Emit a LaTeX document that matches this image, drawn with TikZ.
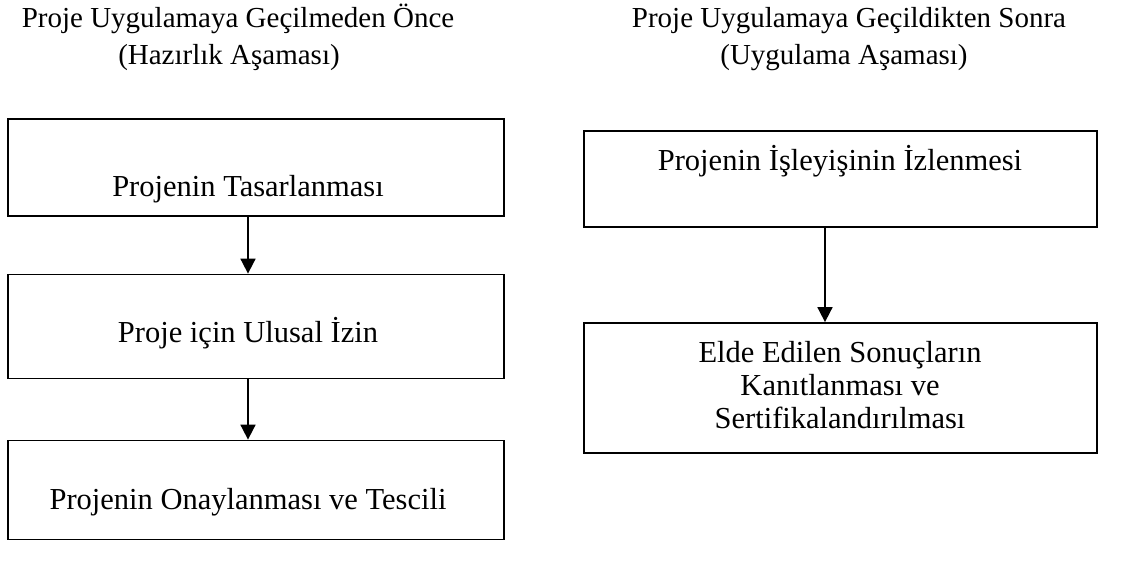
\documentclass[tikz,border=0pt]{standalone}
\usepackage{fontspec}
\setmainfont{Liberation Serif}
\usetikzlibrary{arrows.meta}
\begin{document}
\begin{tikzpicture}[x=0.4pt,y=-0.4pt,
  box/.style={draw, line width=0.7pt, inner sep=0pt},
  txt/.style={font=\fontsize{12.2pt}{13.6pt}\selectfont, inner sep=0pt, anchor=base, align=center},
  ttl/.style={font=\fontsize{11.6pt}{13.6pt}\selectfont, inner sep=0pt, anchor=base, align=center},
  arr/.style={line width=0.7pt, -{Triangle[length=6pt,width=6pt]}}]
\useasboundingbox (0,0) rectangle (1129,564);
% titles
\node[ttl] (tl1) at (238,28) {Proje Uygulamaya Geçilmeden Önce};
\node[ttl] (tl2) at (229,65) {(Hazırlık Aşaması)};
\node[ttl] (tr1) at (849,28) {Proje Uygulamaya Geçildikten Sonra};
\node[ttl] (tr2) at (844,65) {(Uygulama Aşaması)};
% left boxes
\node[box, minimum width=496*0.4pt, minimum height=97*0.4pt] (b1) at (256,167.5) {};
\node[box, minimum width=496*0.4pt, minimum height=104*0.4pt] (b2) at (256,326.5) {};
\node[box, minimum width=496*0.4pt, minimum height=99*0.4pt] (b3) at (256,490) {};
\node[txt] (t1) at (248,197) {Projenin Tasarlanması};
\node[txt] (t2) at (248,343) {Proje için Ulusal İzin};
\node[txt] (t3) at (248,510) {Projenin Onaylanması ve Tescili};
% right boxes
\node[box, minimum width=513*0.4pt, minimum height=96*0.4pt] (ba) at (840.5,179) {};
\node[box, minimum width=513*0.4pt, minimum height=130*0.4pt] (bb) at (840.5,388) {};
\node[txt] (ta) at (840,171) {Projenin İşleyişinin İzlenmesi};
\node[txt] (tb1) at (840,363) {Elde Edilen Sonuçların};
\node[txt] (tb2) at (840,396) {Kanıtlanması ve};
\node[txt] (tb3) at (840,429) {Sertifikalandırılması};
\coordinate (ax) at (825,0);
% arrows
\draw[arr] (b1.south -| t1) -- (b2.north -| t1);
\draw[arr] (b2.south -| t2) -- (b3.north -| t2);
\draw[arr] (ba.south -| ax) -- (bb.north -| ax);
\end{tikzpicture}
\end{document}
